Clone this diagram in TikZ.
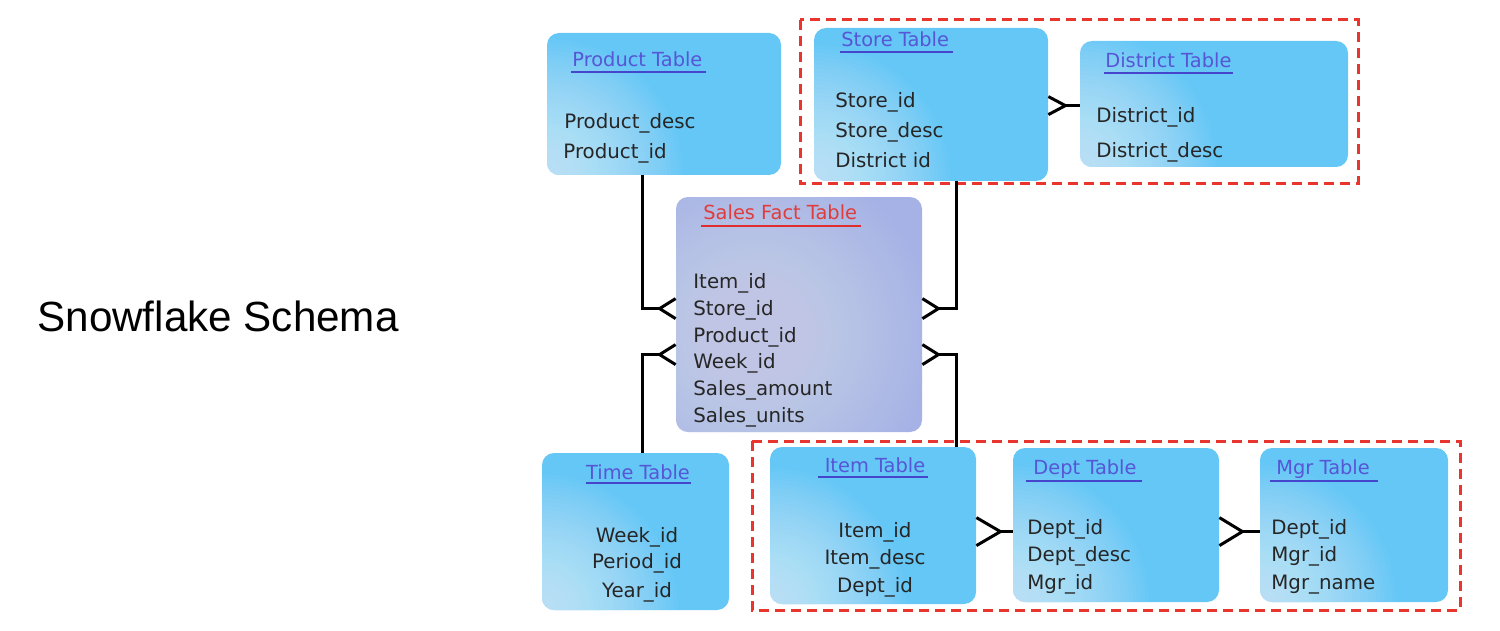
\documentclass[tikz,border=0pt]{standalone}
\usepackage{fontspec}
\setmainfont{DejaVu Sans}
\newfontfamily\arialf{Liberation Sans}
\usetikzlibrary{calc}
\definecolor{tblue}{HTML}{64C7F5}
\definecolor{tbluel}{HTML}{E4F7FE}
\definecolor{tlav}{HTML}{A6B2E5}
\definecolor{tlavl}{HTML}{DCE1F7}
\definecolor{ttitle}{HTML}{5656D6}
\definecolor{tline}{HTML}{4646CC}
\definecolor{stitle}{HTML}{E03C3C}
\definecolor{sline}{HTML}{E02E2E}
\definecolor{dred}{HTML}{E8362E}
\definecolor{ftext}{HTML}{262626}
\newcommand\fldL[4]{\node[fld,anchor=base west] (#1) at (#2,#3) {#4};}
\newcommand\fldC[4]{\node[fld,anchor=base] (#1) at (#2,#3) {#4};}
\newcommand\crowf[3]{\draw[conn] ($(#1)+(#3)$) -- (#2) -- ($(#1)-(#3)$);}
\begin{document}
\begin{tikzpicture}[x=0.5pt,y=-0.5pt,
  bluebox/.style={draw=none, fill=tblue, rounded corners=6pt, inner sep=0pt,
    path picture={\foreach \r in {136,132,...,4}
      \fill[tbluel, opacity=0.04] (path picture bounding box.south west) circle (\r);}},
  lavbox/.style={draw=none, fill=tlav, rounded corners=6pt, inner sep=0pt,
    path picture={\foreach \r in {176,171,...,6}
      \fill[tlavl, opacity=0.035] ($(path picture bounding box.west)+(80,20)$) circle (\r);}},
  fld/.style={inner sep=0pt, text=ftext, font=\fontsize{9.9pt}{12pt}\selectfont},
  ttl/.style={inner sep=0pt, text=ttitle, font=\fontsize{9.7pt}{12pt}\selectfont},
  sttl/.style={inner sep=0pt, text=stitle, font=\fontsize{9.7pt}{12pt}\selectfont},
  uline/.style={draw=tline, line width=1.4pt},
  suline/.style={draw=sline, line width=1.4pt},
  conn/.style={draw=black, line width=1.5pt},
  grp/.style={draw=dred, line width=1.5pt, dash pattern=on 5pt off 3pt}
]
\useasboundingbox (0,0) rectangle (1500,631);

% title
\node[inner sep=0pt, anchor=base west, font=\arialf\fontsize{21.1pt}{25pt}\selectfont] (lbl) at (37,331) {Snowflake Schema};

% groups
\draw[grp] (800,20) rectangle (1358,184);
\draw[grp] (752,441) rectangle (1460,610);

% boxes
\node[bluebox, minimum width=117pt, minimum height=71pt] (prod) at (664,104) {};
\node[bluebox, minimum width=117pt, minimum height=76.5pt] (store) at (931,104.5) {};
\node[bluebox, minimum width=134pt, minimum height=63pt] (dist) at (1214,104) {};
\node[lavbox, minimum width=123pt, minimum height=117.5pt] (sales) at (799,314.5) {};
\node[bluebox, minimum width=93.5pt, minimum height=78.5pt] (time) at (635.5,531.5) {};
\node[bluebox, minimum width=103pt, minimum height=78.5pt] (item) at (873,525.5) {};
\node[bluebox, minimum width=103pt, minimum height=77pt] (dept) at (1116,525) {};
\node[bluebox, minimum width=94pt, minimum height=77pt] (mgr) at (1354,525) {};

% titles
\node[ttl, anchor=base west] (prodT) at (572,67) {Product Table};
\draw[uline] (571,72) -- (706,72);
\node[ttl, anchor=base west] (storeT) at (841,47) {Store Table};
\draw[uline] (840,52) -- (953,52);
\node[ttl, anchor=base west] (distT) at (1105,68) {District Table};
\draw[uline] (1104,73) -- (1233,73);
\node[sttl, anchor=base west] (salesT) at (703,220) {Sales Fact Table};
\draw[suline] (701,226) -- (861,226);
\node[ttl, anchor=base] (timeT) at (638,479) {Time Table};
\draw[uline] (586,483) -- (691,483);
\node[ttl, anchor=base] (itemT) at (875,472) {Item Table};
\draw[uline] (818,477) -- (928,477);
\node[ttl, anchor=base west] (deptT) at (1033,474) {Dept Table};
\draw[uline] (1026,481) -- (1142,481);
\node[ttl, anchor=base west] (mgrT) at (1276,474) {Mgr Table};
\draw[uline] (1270,481) -- (1378,481);

% fields
\fldL{p1}{564}{129}{Product\_desc}
\fldL{p2}{563}{159}{Product\_id}
\fldL{s1}{835}{108}{Store\_id}
\fldL{s2}{835}{138}{Store\_desc}
\fldL{s3}{835}{168}{District id}
\fldL{d1}{1096}{123}{District\_id}
\fldL{d2}{1096}{157}{District\_desc}
\fldL{f1}{693}{288}{Item\_id}
\fldL{f2}{693}{315}{Store\_id}
\fldL{f3}{693}{342}{Product\_id}
\fldL{f4}{693}{368}{Week\_id}
\fldL{f5}{693}{395}{Sales\_amount}
\fldL{f6}{693}{422}{Sales\_units}
\fldC{t1}{637}{542}{Week\_id}
\fldC{t2}{637}{568}{Period\_id}
\fldC{t3}{637}{597}{Year\_id}
\fldC{i1}{875}{537}{Item\_id}
\fldC{i2}{875}{564}{Item\_desc}
\fldC{i3}{875}{592}{Dept\_id}
\fldL{e1}{1027}{534}{Dept\_id}
\fldL{e2}{1027}{561}{Dept\_desc}
\fldL{e3}{1027}{589}{Mgr\_id}
\fldL{m1}{1271}{534}{Dept\_id}
\fldL{m2}{1271}{561}{Mgr\_id}
\fldL{m3}{1271}{589}{Mgr\_name}

% connector coordinates
\coordinate (cx1) at (642,0);
\coordinate (cx2) at (956,0);
\coordinate (sL1) at ($(sales.north west)+(0,112)$);
\coordinate (sL2) at ($(sales.north west)+(0,158)$);
\coordinate (sR1) at ($(sales.north east)+(0,112)$);
\coordinate (sR2) at ($(sales.north east)+(0,158)$);
\coordinate (tL1) at ($(sL1)+(-16,0)$);
\coordinate (tL2) at ($(sL2)+(-16,0)$);
\coordinate (tR1) at ($(sR1)+(16,0)$);
\coordinate (tR2) at ($(sR2)+(16,0)$);
\coordinate (stE) at ($(store.north east)+(0,78)$);
\coordinate (stT) at ($(stE)+(17,0)$);
\coordinate (itE) at ($(item.north east)+(0,85)$);
\coordinate (itT) at ($(itE)+(24,0)$);
\coordinate (deE) at ($(dept.north east)+(0,84)$);
\coordinate (deT) at ($(deE)+(23,0)$);

% connectors
\draw[conn] (prod.south -| cx1) |- (tL1);
\draw[conn] (time.north -| cx1) |- (tL2);
\draw[conn] (store.south -| cx2) |- (tR1);
\draw[conn] (item.north -| cx2) |- (tR2);
\crowf{sL1}{tL1}{0,10}
\crowf{sL2}{tL2}{0,10}
\crowf{sR1}{tR1}{0,10}
\crowf{sR2}{tR2}{0,10}
\draw[conn] (stT) -- (stT -| dist.west);
\crowf{stE}{stT}{0,9}
\draw[conn] (itT) -- (itT -| dept.west);
\crowf{itE}{itT}{0,14}
\draw[conn] (deT) -- (deT -| mgr.west);
\crowf{deE}{deT}{0,14}
\end{tikzpicture}
\end{document}
